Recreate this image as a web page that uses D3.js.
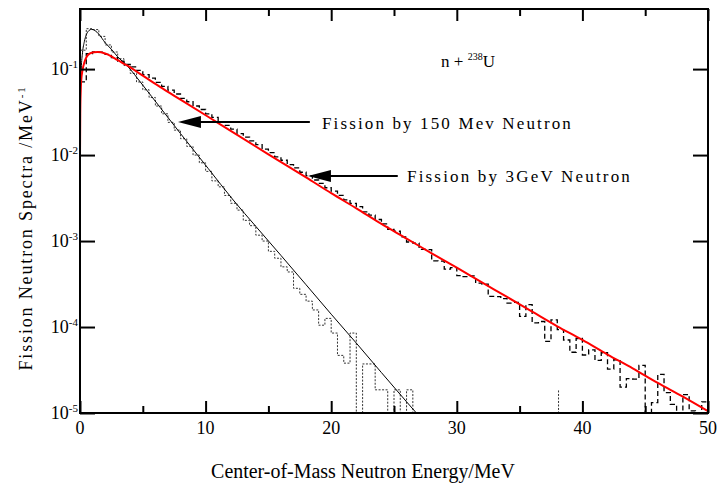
<!DOCTYPE html>
<html><head><meta charset="utf-8">
<script src="https://cdn.jsdelivr.net/npm/d3@7"></script>
<style>
html,body{margin:0;padding:0;background:#fff;}
svg{display:block;font-family:"Liberation Serif","Times New Roman",serif;}
</style></head><body>
<svg id="chart" width="717" height="486"></svg>
<script>
// ---------- data ----------
const xTicksMajor = [0, 10, 20, 30, 40, 50];
const xTicksMinor = [5, 15, 25, 35, 45];
const yTicks = [1e-1, 1e-2, 1e-3, 1e-4, 1e-5];
const yTickExp = ["-1", "-2", "-3", "-4", "-5"];
const binWidth = 0.5;

// histogram, fission by 3 GeV neutron (dashed), bins of 0.5 MeV from 0
const hist3GeV = [
  0.071, 0.151, 0.158, 0.157, 0.148, 0.136, 0.124, 0.1135,
  0.106, 0.0966, 0.0861, 0.0785, 0.070, 0.0631, 0.0569, 0.0513,
  0.0457, 0.0417, 0.0372, 0.0339, 0.0302, 0.0275, 0.0245, 0.0221,
  0.0200, 0.0178, 0.0162, 0.0146, 0.0132, 0.0117, 0.0107, 0.00955,
  0.00871, 0.00776, 0.00708, 0.00631, 0.00575, 0.00513, 0.00468, 0.00417,
  0.00380, 0.00339, 0.00302, 0.00275, 0.00251, 0.00219, 0.00200, 0.00178,
  0.00158, 0.00137, 0.00130, 0.00112, 0.000975, 0.000946, 0.000802, 0.000796,
  0.000587, 0.000583, 0.000472, 0.000491, 0.000397, 0.000385, 0.000393, 0.000324,
  0.000315, 0.000227, 0.000226, 0.000214, 0.000190, 0.000193, 0.000133, 0.000182,
  0.000112, 0.000116, 6.82e-5, 0.000121, 9.33e-5, 7.06e-5, 5.09e-5, 7.35e-5,
  4.73e-5, 5.42e-5, 4.09e-5, 5.02e-5, 3.24e-5, 4.16e-5, 2.00e-5, 2.51e-5,
  2.48e-5, 3.58e-5, 0, 1.32e-5, 2.82e-5, 1.73e-5, 1.26e-5, 0,
  1.64e-5, 1.06e-5, 0, 1.35e-5
];

// histogram, fission by 150 MeV neutron (dotted), bins of 0.5 MeV from 0
const hist150MeV = [
  0.166, 0.295, 0.288, 0.240, 0.191, 0.158, 0.132, 0.110,
  0.0891, 0.0708, 0.0575, 0.0468, 0.0372, 0.0302, 0.0240, 0.0195,
  0.0155, 0.0126, 0.0100, 0.00813, 0.00646, 0.00501, 0.00427, 0.00339,
  0.00275, 0.00229, 0.00174, 0.00151, 0.00117, 0.00100, 0.000759, 0.000631,
  0.000501, 0.000437, 0.000282, 0.000240, 0.000200, 0.000158, 0.000105, 0.000126,
  8.51e-5, 4.68e-5, 3.80e-5, 8.51e-5, 0, 3.72e-5, 3.72e-5, 1.86e-5,
  1.86e-5, 0, 1.86e-5, 0, 1.86e-5
];
const spike150E = [38.1];
const spike150V = [1.86e-5];

// fitted curves
const fitE150 = [0, 0.05, 0.1, 0.2, 0.35, 0.5, 0.7, 0.93, 1.2, 1.5, 2, 2.5, 3, 3.71, 5, 6.4, 8, 10.2, 12.2, 14, 16, 18, 20, 22, 24, 26, 27.5];
const fitV150 = [0.012, 0.06, 0.1, 0.155, 0.21, 0.25, 0.28, 0.29, 0.28, 0.255, 0.203, 0.17, 0.139, 0.111, 0.065, 0.0355, 0.0178, 0.0070, 0.0030, 0.00148, 0.00068, 0.00031, 0.000141, 0.000065, 0.0000295, 0.0000135, 0.0000076];

const fitE3G = [0, 0.02, 0.05, 0.1, 0.2, 0.35, 0.53, 0.8, 1.1, 1.4, 2, 2.5, 3, 3.71, 5, 6.4, 8, 10.2, 12, 15, 18, 20, 22, 24, 26, 28, 30, 32, 34, 36, 38, 40, 42, 44, 46, 48, 50];
const fitV3G = [0.0100, 0.03, 0.052, 0.075, 0.097, 0.12, 0.139, 0.152, 0.157, 0.158, 0.152, 0.141, 0.127, 0.111, 0.084, 0.0617, 0.0442, 0.0279, 0.0191, 0.0102, 0.0055, 0.0036, 0.0024, 0.00158, 0.00107, 0.00072, 0.00049, 0.00033, 0.000224, 0.000151, 0.000102, 0.0000708, 0.0000479, 0.0000331, 0.0000224, 0.0000155, 0.0000105];

const annotations = [
  {label: "Fission by 150 Mev Neutron", tipE: 7.8, tipV: 0.0242, tailE: 18.3, textE: 19.27, textV: 0.0200, textEndE: 39.25},
  {label: "Fission by 3GeV Neutron", tipE: 18.15, tipV: 0.0057, tailE: 25.3, textE: 26.04, textV: 0.00485, textEndE: 43.95}
];
const reactionE = 33.04, reactionV = 0.1054;

// ---------- layout ----------
const L = 80, R = 708, T = 9, B = 413;
const svg = d3.select("#chart");
const x = d3.scaleLinear().domain([0, 50]).range([L, R]);
const y = d3.scaleLog().domain([1e-5, 0.5]).range([B, T]);
const floorV = 1e-7;

svg.append("defs").append("clipPath").attr("id", "clip")
  .append("rect").attr("x", L).attr("y", T).attr("width", R - L).attr("height", B - T);

const plot = svg.append("g").attr("clip-path", "url(#clip)");

function histPoints(vals) {
  const pts = vals.map((v, i) => [i * binWidth, v > 0 ? v : floorV]);
  pts.push([vals.length * binWidth, vals[vals.length - 1] > 0 ? vals[vals.length - 1] : floorV]);
  pts.push([vals.length * binWidth, floorV]);
  return pts;
}
const stepLine = d3.line().x(d => x(d[0])).y(d => y(d[1])).curve(d3.curveStepAfter);
const linLine = d3.line().x(d => x(d[0])).y(d => y(d[1]));

// dotted histogram (150 MeV)
plot.append("path").attr("d", stepLine(histPoints(hist150MeV)))
  .attr("fill", "none").attr("stroke", "#333").attr("stroke-width", 1)
  .attr("stroke-dasharray", "2,1.5");
spike150E.forEach((e, i) => {
  plot.append("path").attr("d", linLine([[e, floorV], [e, spike150V[i]]]))
    .attr("fill", "none").attr("stroke", "#333").attr("stroke-width", 1)
    .attr("stroke-dasharray", "2,1.5");
});

// dashed histogram (3 GeV)
plot.append("path").attr("d", stepLine(histPoints(hist3GeV)))
  .attr("fill", "none").attr("stroke", "#000").attr("stroke-width", 1.3)
  .attr("stroke-dasharray", "5,3");

const smooth = d3.line().x(d => x(d[0])).y(d => y(d[1])).curve(d3.curveMonotoneX);
plot.append("path").attr("d", smooth(fitE150.map((e, i) => [e, fitV150[i]])))
  .attr("fill", "none").attr("stroke", "#000").attr("stroke-width", 1);
plot.append("path").attr("d", smooth(fitE3G.map((e, i) => [e, fitV3G[i]])))
  .attr("fill", "none").attr("stroke", "#ff0000").attr("stroke-width", 2);

// ---------- axes ----------
function styleAxis(g) {
  g.select(".domain").remove();
  g.selectAll(".tick line").attr("stroke", "#000").attr("stroke-width", 2);
  g.selectAll(".tick text").remove();
}
svg.append("g").attr("transform", `translate(0,${B})`)
  .call(d3.axisBottom(x).tickValues(xTicksMajor).tickSize(-12)).call(styleAxis);
svg.append("g").attr("transform", `translate(0,${B})`)
  .call(d3.axisBottom(x).tickValues(xTicksMinor).tickSize(-7)).call(styleAxis);
svg.append("g").attr("transform", `translate(0,${T})`)
  .call(d3.axisTop(x).tickValues(xTicksMajor).tickSize(-12)).call(styleAxis);
svg.append("g").attr("transform", `translate(0,${T})`)
  .call(d3.axisTop(x).tickValues(xTicksMinor).tickSize(-7)).call(styleAxis);
svg.append("g").attr("transform", `translate(${L},0)`)
  .call(d3.axisLeft(y).tickValues(yTicks).tickSize(-15)).call(styleAxis);
svg.append("g").attr("transform", `translate(${R},0)`)
  .call(d3.axisRight(y).tickValues(yTicks).tickSize(-15)).call(styleAxis);

svg.append("rect").attr("x", L).attr("y", T).attr("width", R - L).attr("height", B - T)
  .attr("fill", "none").attr("stroke", "#000").attr("stroke-width", 2);

// x tick labels
svg.append("g").selectAll("text").data(xTicksMajor).join("text")
  .attr("x", d => x(d)).attr("y", B + 21).attr("text-anchor", "middle")
  .attr("font-size", 18).text(d => d);

// y tick labels
const yl = svg.append("g").selectAll("text").data(yTicks).join("text")
  .attr("x", L - 2).attr("y", d => y(d) + 6).attr("text-anchor", "end").attr("font-size", 18);
yl.append("tspan").text("10");
yl.append("tspan").attr("font-size", 11).attr("dy", -7).text((d, i) => yTickExp[i]);

// axis titles
const xt = svg.append("text").attr("x", 363).attr("y", 478).attr("text-anchor", "middle")
  .attr("font-size", 18).text("Center-of-Mass Neutron Energy/MeV");
{
  const w = xt.node().getComputedTextLength();
  xt.attr("font-size", 18 * 304 / w);
}

const yt = svg.append("text").attr("transform", "translate(32,228) rotate(-90)")
  .attr("text-anchor", "middle").attr("font-size", 18);
yt.append("tspan").text("Fission Neutron Spectra /MeV");
yt.append("tspan").attr("font-size", 11).attr("dy", -7).text("-1");
function fitSpacing(sel, target) {
  const len = sel.node().getComputedTextLength();
  const n = sel.text().length;
  sel.style("letter-spacing", ((target - len) / n) + "px");
}
fitSpacing(yt, 285);

// reaction label
const rx = svg.append("text").attr("x", x(reactionE)).attr("y", y(reactionV))
  .attr("text-anchor", "end").attr("font-size", 17);
rx.append("tspan").text("n + ");
rx.append("tspan").attr("font-size", 10).attr("dy", -7).text("238");
rx.append("tspan").attr("dy", 7).text("U");

// annotations with arrows
annotations.forEach(a => {
  const tx = x(a.tipE), ty = y(a.tipV), tailX = x(a.tailE);
  svg.append("line").attr("x1", tailX).attr("x2", tx + 20).attr("y1", ty).attr("y2", ty)
    .attr("stroke", "#000").attr("stroke-width", 2);
  svg.append("path").attr("d", `M${tx},${ty} L${tx + 23},${ty - 6} L${tx + 23},${ty + 6} Z`)
    .attr("fill", "#000");
  const t = svg.append("text").attr("x", x(a.textE)).attr("y", y(a.textV))
    .attr("font-size", 17).text(a.label);
  fitSpacing(t, x(a.textEndE) - x(a.textE));
});
</script>
</body></html>
